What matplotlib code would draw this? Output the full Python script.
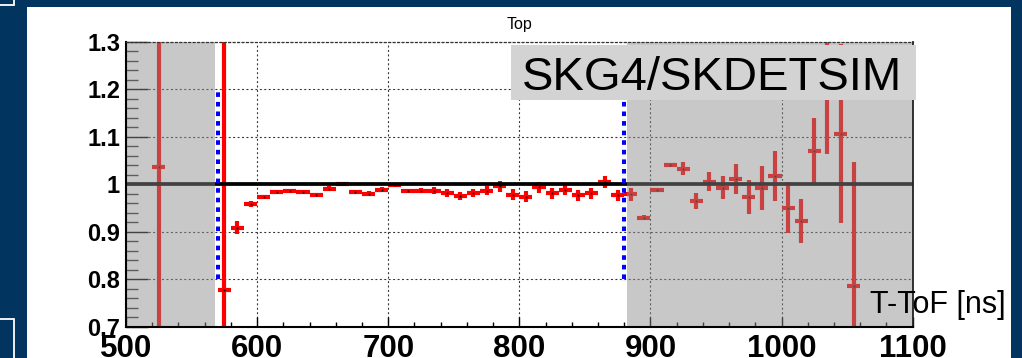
import matplotlib
matplotlib.use("Agg")
import matplotlib.pyplot as plt
from matplotlib.patches import Rectangle
import numpy as np

plt.rcParams['font.family'] = ['Liberation Sans', 'DejaVu Sans']
plt.rcParams['lines.scale_dashes'] = False
plt.rcParams['lines.solid_capstyle'] = 'butt'

# ---------------- data ----------------
bin_centers = [525, 575, 585, 595, 605, 615, 625, 635, 645, 655, 665, 675, 685,
               695, 705, 715, 725, 735, 745, 755, 765, 775, 785, 795, 805, 815,
               825, 835, 845, 855, 865, 875, 885, 895, 905, 915, 925, 935, 945,
               955, 965, 975, 985, 995, 1005, 1015, 1025, 1035, 1045, 1055]
ratio = [1.037, 0.778, 0.909, 0.958, 0.974, 0.984, 0.987, 0.984, 0.978, 0.991,
         1.000, 0.984, 0.980, 0.989, 0.998, 0.986, 0.987, 0.987, 0.982, 0.975,
         0.982, 0.987, 0.996, 0.978, 0.974, 0.994, 0.981, 0.989, 0.977, 0.981,
         1.005, 0.977, 0.979, 0.930, 0.989, 1.041, 1.033, 0.964, 1.005, 0.993,
         1.011, 0.973, 0.992, 1.018, 0.951, 0.923, 1.071, 1.200, 1.107, 0.786]
ratio_err = [0.600, 0.600, 0.013, 0.006, 0.004, 0.004, 0.003, 0.004, 0.004, 0.005,
             0.004, 0.004, 0.005, 0.005, 0.004, 0.005, 0.006, 0.007, 0.008, 0.008,
             0.008, 0.009, 0.012, 0.012, 0.012, 0.012, 0.012, 0.012, 0.012, 0.012,
             0.013, 0.012, 0.014, 0.005, 0.002, 0.004, 0.014, 0.017, 0.020, 0.024,
             0.031, 0.036, 0.046, 0.053, 0.053, 0.047, 0.068, 0.137, 0.188, 0.262]
half_bin_width = 5

x_ticks = [500, 600, 700, 800, 900, 1000, 1100]
x_tick_labels = ['500', '600', '700', '800', '900', '1000', '1100']
y_ticks = [0.7, 0.8, 0.9, 1.0, 1.1, 1.2, 1.3]
y_tick_labels = ['0.7', '0.8', '0.9', '1', '1.1', '1.2', '1.3']

excluded_ranges = [(500, 568), (882, 1100)]
fit_window = [570, 880]
reference_level = 1.0

title_text = 'Top'
xlabel_text = 'T-ToF [ns]'
label_text = 'SKG4/SKDETSIM'

# ---------------- figure ----------------
W, H = 1022, 358
fig = plt.figure(figsize=(W / 100, H / 100), dpi=100)
fig.patch.set_facecolor('#023460')

def fx(px):
    return px / W

def fy(py):
    return 1 - py / H

# white pad
fig.add_artist(Rectangle((fx(27), 0), fx(1011) - fx(27), fy(7), transform=fig.transFigure,
                         facecolor='white', edgecolor='none', zorder=-5))
# corner pad outlines
fig.add_artist(Rectangle((fx(-5), fy(5)), fx(19), fy(-5) - fy(5), transform=fig.transFigure,
                         facecolor='none', edgecolor='white', lw=1.3, zorder=-4))
fig.add_artist(Rectangle((fx(-5), fy(365)), fx(18.5), fy(319) - fy(365), transform=fig.transFigure,
                         facecolor='none', edgecolor='white', lw=1.3, zorder=-4))

ax = fig.add_axes([fx(126), fy(326.7), fx(912.7) - fx(126), fy(42) - fy(326.7)])
ax.set_facecolor('white')
ax.set_xlim(500, 1100)
ax.set_ylim(0.7, 1.3)

# grid
dot = (0, (1.4, 1.8))
ax.grid(True, which='major', color='#333333', linestyle=dot, linewidth=0.8, zorder=1)
ax.set_axisbelow(True)

# data
ax.errorbar(bin_centers, ratio, xerr=half_bin_width, yerr=ratio_err, fmt='none',
            ecolor='#ff0000', elinewidth=3.0, capsize=0, zorder=2.0)
ax.plot(bin_centers, ratio, linestyle='none', marker='s', ms=1.2, mew=0,
        color='black', zorder=2.05)

# reference line
ax.axhline(reference_level, color='black', lw=2.7, zorder=2.1)

# excluded (shaded) regions
for lo, hi in excluded_ranges:
    ax.axvspan(lo, hi, facecolor=(140 / 255, 140 / 255, 140 / 255), alpha=0.48,
               lw=0, zorder=2.3)

# fit window lines
for xv in fit_window:
    ax.plot([xv, xv], [0.8, 1.2], color='#0000ff', lw=2.9,
            dashes=(3.3, 3.6), solid_capstyle='butt', dash_capstyle='butt', zorder=3)

# ticks
ax.set_xticks(x_ticks, x_tick_labels)
ax.set_yticks(y_ticks, y_tick_labels)
ax.set_xticks(np.arange(500, 1101, 20), minor=True)
ax.set_yticks(np.arange(0.7, 1.3001, 0.02), minor=True)
ax.tick_params(axis='x', which='major', direction='in', length=7.2, width=1.0,
               pad=5.6, labelsize=22.5, color='black')
ax.tick_params(axis='x', which='minor', direction='in', length=3.6, width=1.0, color='black')
ax.tick_params(axis='y', which='major', direction='in', length=16, width=1.0,
               pad=4.3, labelsize=17, color='black')
ax.tick_params(axis='y', which='minor', direction='in', length=8.4, width=1.0, color='#333333')
for lab in ax.get_xticklabels() + ax.get_yticklabels():
    lab.set_fontweight('bold')

# spines
ax.spines['left'].set_linewidth(1.5)
ax.spines['bottom'].set_linewidth(1.5)
ax.spines['left'].set_color('black')
ax.spines['bottom'].set_color('black')
ax.spines['top'].set_linestyle(dot)
ax.spines['top'].set_color('#333333')
ax.spines['top'].set_linewidth(0.9)
ax.spines['right'].set_color('#222222')
ax.spines['right'].set_linewidth(1.3)
for s in ax.spines.values():
    s.set_zorder(2.5)

# texts
fig.text(fx(519), fy(25), title_text, ha='center', va='center', fontsize=11.5, color='black')
fig.text(fx(1006), fy(313), xlabel_text, ha='right', va='baseline', fontsize=22, color='black')

fig.add_artist(Rectangle((fx(511), fy(100)), fx(916) - fx(511), fy(45) - fy(100),
                         transform=fig.transFigure, facecolor='#d3d3d3', edgecolor='none', zorder=4))
fig.text(fx(712), fy(90), label_text, ha='center', va='baseline', fontsize=34,
         color='black', zorder=5)

fig.savefig('out.png', dpi=100, facecolor=fig.get_facecolor())
